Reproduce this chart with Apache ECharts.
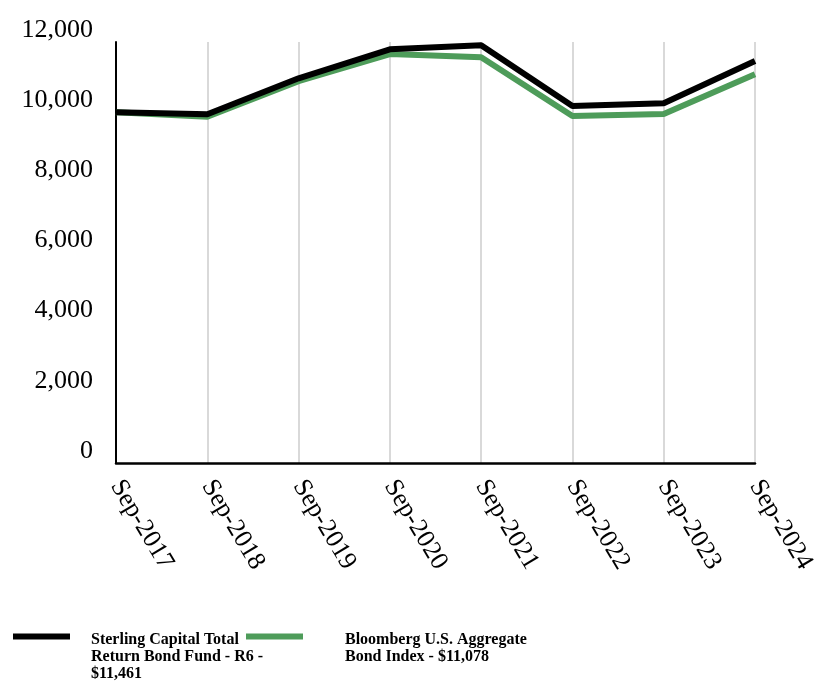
<!DOCTYPE html>
<html>
<head>
<meta charset="utf-8">
<script src="https://cdn.jsdelivr.net/npm/echarts@6/dist/echarts.min.js"></script>
<style>html,body{margin:0;padding:0;background:#fff}#chart{width:828px;height:684px}</style>
</head>
<body>
<div id="chart"></div>
<script>
const categories = ['Sep-2017','Sep-2018','Sep-2019','Sep-2020','Sep-2021','Sep-2022','Sep-2023','Sep-2024'];
const fundValues = [10000, 9940, 10965, 11790, 11905, 10175, 10255, 11461];
const indexValues = [10000, 9870, 10885, 11655, 11565, 9890, 9950, 11078];
const seriesNames = ['Sterling Capital Total Return Bond Fund - R6 - $11,461', 'Bloomberg U.S. Aggregate Bond Index - $11,078'];
const legendLabels = ['Sterling Capital Total\nReturn Bond Fund - R6 -\n$11,461', 'Bloomberg U.S. Aggregate\nBond Index - $11,078'];
const yTicks = {min: 0, max: 12000, interval: 2000};

const FONT = '"Liberation Serif", "Times New Roman", serif';
const chart = echarts.init(document.getElementById('chart'), null, {renderer: 'canvas'});
const legendText = () => ({
  fontFamily: FONT, fontSize: 16, fontWeight: 'bold', color: '#000', lineHeight: 17
});
chart.setOption({
  animation: false,
  backgroundColor: '#fff',
  grid: {left: 116, right: 73, top: 42, bottom: 221, containLabel: false},
  xAxis: {
    type: 'category',
    data: categories,
    boundaryGap: false,
    axisLine: {show: true, lineStyle: {color: '#000', width: 2.5}},
    axisTick: {show: false},
    splitLine: {show: true, lineStyle: {color: '#d9d9d9', width: 2}},
    axisLabel: {rotate: -59, margin: 19, fontFamily: FONT, fontSize: 26, color: '#000', interval: 0}
  },
  yAxis: {
    type: 'value',
    min: yTicks.min, max: yTicks.max, interval: yTicks.interval,
    axisLine: {show: true, lineStyle: {color: '#000', width: 2}},
    axisTick: {show: false},
    splitLine: {show: false},
    axisLabel: {
      margin: 23, fontFamily: FONT, fontSize: 26, color: '#000',
      verticalAlign: 'bottom', lineHeight: 24,
      formatter: v => v.toLocaleString('en-US')
    }
  },
  legend: [
    {
      left: 13, top: 631, padding: 0,
      icon: 'path://M0,5H57V11H0Z M0,51L0.01,51', itemWidth: 57, itemHeight: 51,
      data: [{name: seriesNames[0], textStyle: {padding: [0, 0, 0, 16]}}],
      formatter: () => legendLabels[0],
      textStyle: legendText()
    },
    {
      left: 246, top: 631, padding: 0,
      icon: 'path://M0,5H57V11H0Z M0,34L0.01,34', itemWidth: 57, itemHeight: 34,
      data: [{name: seriesNames[1], textStyle: {padding: [0, 0, 0, 37]}}],
      formatter: () => legendLabels[1],
      textStyle: legendText()
    }
  ],
  series: [
    {
      name: seriesNames[1], type: 'line', data: indexValues,
      symbol: 'none', lineStyle: {color: '#4e9c5a', width: 6}, itemStyle: {color: '#4e9c5a'}, z: 2
    },
    {
      name: seriesNames[0], type: 'line', data: fundValues,
      symbol: 'none', lineStyle: {color: '#000', width: 6}, itemStyle: {color: '#000'}, z: 3
    }
  ]
});
</script>
</body>
</html>
